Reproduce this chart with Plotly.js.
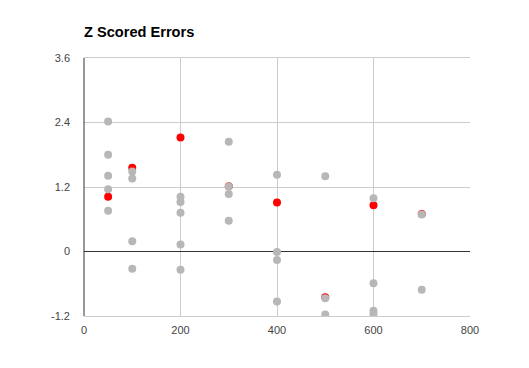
<!DOCTYPE html>
<html>
<head>
<meta charset="utf-8">
<script src="https://cdn.plot.ly/plotly-3.0.1.min.js"></script>
<style>html,body{margin:0;padding:0;background:#fff;}#chart{width:529px;height:368px;}</style>
</head>
<body>
<div id="chart"></div>
<script>
// Gray points (all observations)
const grayX = [50, 50, 50, 50, 50,
               100, 100, 100, 100,
               200, 200, 200, 200, 200,
               300, 300, 300, 300,
               400, 400, 400, 400,
               500, 500, 500,
               600, 600, 600, 600,
               700, 700];
const grayY = [2.42, 1.80, 1.41, 1.16, 0.76,
               1.49, 1.36, 0.19, -0.32,
               1.02, 0.92, 0.72, 0.13, -0.34,
               2.04, 1.21, 1.07, 0.57,
               1.43, -0.01, -0.16, -0.93,
               1.40, -0.87, -1.17,
               0.99, -0.59, -1.10, -1.16,
               0.69, -0.71];
// Red points (highlighted)
const redX = [50, 100, 200, 300, 400, 500, 600, 700];
const redY = [1.02, 1.56, 2.12, 1.215, 0.91, -0.85, 0.86, 0.70];

const xTicks = [0, 200, 400, 600, 800];
const yTicks = [-1.2, 0, 1.2, 2.4, 3.6];
const yTickText = ['-1.2', '0', '1.2', '2.4', '3.6'];

const traces = [
  {x: redX, y: redY, type: 'scatter', mode: 'markers',
   marker: {color: '#ff0000', size: 8}, hoverinfo: 'x+y', showlegend: false},
  {x: grayX, y: grayY, type: 'scatter', mode: 'markers',
   marker: {color: '#b7b7b7', size: 8}, hoverinfo: 'x+y', showlegend: false}
];

const layout = {
  width: 529, height: 368,
  margin: {l: 84, r: 59, t: 58, b: 52, pad: 0},
  paper_bgcolor: '#ffffff', plot_bgcolor: '#ffffff',
  font: {family: 'Liberation Sans, Arial, sans-serif', size: 11, color: '#444444'},
  title: {text: '<b>Z Scored Errors</b>', x: 0, xref: 'paper', xanchor: 'left',
          y: 1, yref: 'paper', yanchor: 'bottom', pad: {b: 21},
          font: {family: 'Liberation Sans, Arial, sans-serif', size: 14.6, color: '#000000'}},
  xaxis: {range: [0, 800], tickvals: xTicks, ticktext: xTicks.map(String),
          showgrid: true, gridcolor: '#cccccc', gridwidth: 1,
          zeroline: false, showline: true, mirror: true, linecolor: '#cccccc', linewidth: 1,
          ticks: '', ticklabelstandoff: 4, fixedrange: true},
  yaxis: {range: [-1.2, 3.6], tickvals: yTicks, ticktext: yTickText,
          showgrid: true, gridcolor: '#cccccc', gridwidth: 1,
          zeroline: true, zerolinecolor: '#333333', zerolinewidth: 1,
          showline: false, ticks: '', ticklabelstandoff: 13, fixedrange: true},
  shapes: [{type: 'line', xref: 'paper', yref: 'paper', x0: 0, x1: 0, y0: 0, y1: 1,
            line: {color: '#333333', width: 1}}]
};

Plotly.newPlot('chart', traces, layout, {displayModeBar: false, staticPlot: true});
</script>
</body>
</html>
